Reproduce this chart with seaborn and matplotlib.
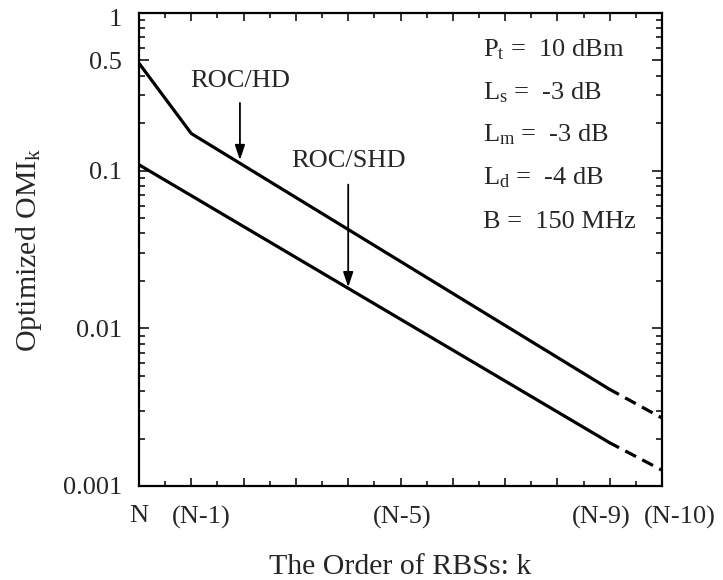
import matplotlib
matplotlib.use("Agg")
import matplotlib.pyplot as plt
import matplotlib.transforms as mtransforms
import seaborn as sns
import pandas as pd
import numpy as np
from matplotlib.ticker import FixedLocator, NullFormatter, LogLocator

# data
hd_x_solid = [0, 1, 9]
hd_y_solid = [0.48, 0.172, 0.0041]
hd_x_dash = [9, 10]
hd_y_dash = [0.0041, 0.0027]
shd_x_solid = [0, 9]
shd_y_solid = [0.109, 0.00188]
shd_x_dash = [9, 10]
shd_y_dash = [0.00188, 0.00126]

xtick_pos = list(range(0, 11))
xtick_labels = ["N", "(N-1)", "", "", "", "(N-5)", "", "", "", "(N-9)", "(N-10)"]
ytick_pos = [0.001, 0.01, 0.1, 0.5, 1]
ytick_labels = ["0.001", "0.01", "0.1", "0.5", "1"]
params = [r"$\mathregular{P_t}$ =  10 dBm",
          r"$\mathregular{L_s}$ =  -3 dB",
          r"$\mathregular{L_m}$ =  -3 dB",
          r"$\mathregular{L_d}$ =  -4 dB",
          r"B =  150 MHz"]

sns.set_style("ticks")
plt.rcParams['font.family'] = ['Liberation Serif', 'DejaVu Serif']
plt.rcParams['mathtext.fontset'] = 'custom'
plt.rcParams['mathtext.rm'] = 'Liberation Serif'
plt.rcParams['mathtext.it'] = 'Liberation Serif:italic'

fig = plt.figure(figsize=(7.23, 5.8), dpi=100)
ax = fig.add_axes([139/723, (580-486)/580, (662-139)/723, (486-13)/580])

lw = 2.3
def seg(x, y, style):
    df = pd.DataFrame({"x": x, "y": y})
    sns.lineplot(data=df, x="x", y="y", ax=ax, color="black", lw=lw,
                 linestyle=style, estimator=None, sort=False)

seg(hd_x_solid, hd_y_solid, "-")
seg(hd_x_dash, hd_y_dash, (0.5, (3.8, 2.2)))
seg(shd_x_solid, shd_y_solid, "-")
seg(shd_x_dash, shd_y_dash, (0.5, (3.8, 2.2)))

ax.set_yscale("log")
ax.set_xlim(0, 10)
ax.set_ylim(0.001, 1)

ax.xaxis.set_major_locator(FixedLocator(xtick_pos))
ax.set_xticklabels(xtick_labels)
ax.xaxis.set_minor_locator(FixedLocator(np.arange(0, 10.01, 0.5)))
ax.set_yticks(ytick_pos)
ax.set_yticklabels(ytick_labels)
ax.yaxis.set_minor_locator(LogLocator(base=10, subs=np.arange(2, 10)))
ax.yaxis.set_minor_formatter(NullFormatter())

ax.tick_params(axis="both", which="both", direction="in", top=True, right=True,
               labelsize=19, width=1.3)
ax.tick_params(axis="x", which="major", length=6, pad=14)
ax.tick_params(axis="x", which="minor", length=3.5)
ax.tick_params(axis="y", which="major", length=7, pad=12)
ax.tick_params(axis="y", which="minor", length=4)

# nudge x tick labels as in the original
offsets_px = {1: 10, 5: 2, 9: -8, 10: 18}
for i, lab in enumerate(ax.get_xticklabels()):
    if i in offsets_px:
        dx = offsets_px[i] / 100.0
        lab.set_transform(lab.get_transform() +
                          mtransforms.ScaledTranslation(dx, 0, fig.dpi_scale_trans))
# the "1" label sits slightly below its tick
for lab in ax.get_yticklabels():
    if lab.get_text() == "1":
        lab.set_transform(lab.get_transform() +
                          mtransforms.ScaledTranslation(0, -0.05, fig.dpi_scale_trans))

for s in ax.spines.values():
    s.set_linewidth(1.6)
    s.set_color("black")

ax.set_xlabel("The Order of RBSs: k", fontsize=21.5, labelpad=18)
ax.set_ylabel(r"Optimized OMI$\mathregular{_k}$", fontsize=21.5, labelpad=14)

# annotations
ax.annotate("", xy=(1.93, 0.112), xytext=(1.93, 0.28),
            arrowprops=dict(arrowstyle="-|>,head_length=0.9,head_width=0.3",
                            color="black", lw=1.3))
ax.text(1.93, 0.37, "ROC/HD", ha="center", va="center", fontsize=19)
ax.annotate("", xy=(4.0, 0.0175), xytext=(4.0, 0.085),
            arrowprops=dict(arrowstyle="-|>,head_length=0.9,head_width=0.3",
                            color="black", lw=1.3))
ax.text(4.0, 0.115, "ROC/SHD", ha="center", va="center", fontsize=19)

ys = [50, 93, 135, 178, 222]
for t, yp in zip(params, ys):
    fig.text(483/723, 1 - yp/580, t, ha="left", va="center", fontsize=19)

fig.savefig("out.png", dpi=100)
